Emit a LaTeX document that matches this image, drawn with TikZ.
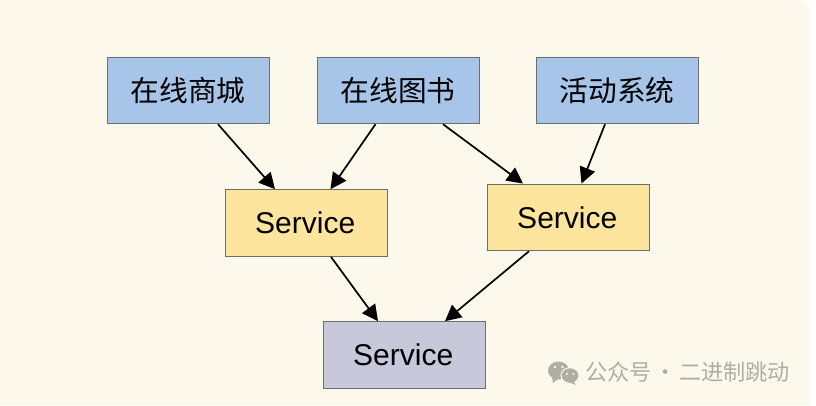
\documentclass[tikz,border=0pt]{standalone}
\usepackage{fontspec}
\setmainfont{Liberation Sans}
\newfontfamily\cjk{Noto Sans CJK SC}
\usetikzlibrary{arrows.meta}
\definecolor{pagebg}{HTML}{FDF8EC}
\definecolor{bluefill}{HTML}{A6C5E8}
\definecolor{yellowfill}{HTML}{FEE59D}
\definecolor{greyfill}{HTML}{C7C8DA}
\definecolor{boxline}{HTML}{6F6F6A}
\definecolor{markgrey}{HTML}{AFADA4}
\newcommand{\svc}{\hspace*{-2pt}\raisebox{-1pt}{Service}}
\tikzset{
  x=1pt,y=-1pt,
  boxbase/.style={draw=boxline,line width=0.9pt,minimum width=162.6pt,minimum height=66.8pt,inner sep=0pt,anchor=north west},
  client/.style={boxbase,fill=bluefill,font=\cjk\fontsize{28.7}{34}\selectfont},
  service/.style={boxbase,fill=yellowfill,font=\fontsize{30}{34}\selectfont},
  shared/.style={boxbase,fill=greyfill,font=\fontsize{30}{34}\selectfont},
  link/.style={draw=black,line width=1.7pt,-{Triangle[length=16pt,width=16pt]}},
  markbubble/.style={fill=markgrey,draw=pagebg,line width=1pt}
}
\begin{document}
\begin{tikzpicture}
  \useasboundingbox (0,0) rectangle (816,405);
  % page panel with its rounded top right corner
  \fill[white] (0,0) rectangle (816,405);
  \fill[pagebg] (0,0) -- (798,0) arc[start angle=90,end angle=0,x radius=12pt,y radius=12pt] -- (810,405) -- (0,405) -- cycle;

  % upper row of applications
  \node[client] (mall) at (106.5,56.5) {\raisebox{-0.5pt}{在线商城}};
  \node[client] (book) at (316.5,56.5) {\raisebox{-0.5pt}{在线图书}};
  \node[client] (event) at (535.5,56.5) {\raisebox{-0.5pt}{活动系统}};

  % services
  \node[service] (left) at (224.5,189.2) {\svc};
  \node[service] (right) at (486.5,183.5) {\svc};
  \node[shared] (base) at (322.5,321.2) {\svc};

  % connectors
  \draw[link] ([xshift=111.5pt]mall.south west) -- ([xshift=50.5pt]left.north west);
  \draw[link] ([xshift=59pt]book.south west) -- ([xshift=106pt]left.north west);
  \draw[link] ([xshift=126.5pt]book.south west) -- ([xshift=36.5pt]right.north west);
  \draw[link] ([xshift=69.5pt]event.south west) -- ([xshift=95pt]right.north west);
  \draw[link] ([xshift=106.5pt]left.south west) -- ([xshift=55.5pt]base.north west);
  \draw[link] ([xshift=42.5pt]right.south west) -- ([xshift=122.5pt]base.north west);

  % account mark in the lower right corner
  \fill[markbubble,draw=none] (558.5,370.5) ellipse[x radius=10.5pt,y radius=9pt];
  \fill[markbubble,draw=none] (552,377) -- (553,383) -- (559,378) -- cycle;
  \fill[markbubble] (570,375.5) ellipse[x radius=9pt,y radius=7.8pt];
  \fill[markbubble,draw=none] (574,381) -- (575.5,385) -- (569,382) -- cycle;
  \fill[pagebg] (555,367) circle[radius=1.3pt] (562.5,367) circle[radius=1.3pt];
  \fill[pagebg] (567,374) circle[radius=1.1pt] (573.5,374) circle[radius=1.1pt];
  \node[text=markgrey,font=\cjk\fontsize{22.2}{25}\selectfont,inner sep=0pt,anchor=west] (mark) at (585,372.5) {公众号\hspace{2.5pt}·\hspace{2.5pt}二进制跳动};
\end{tikzpicture}
\end{document}
